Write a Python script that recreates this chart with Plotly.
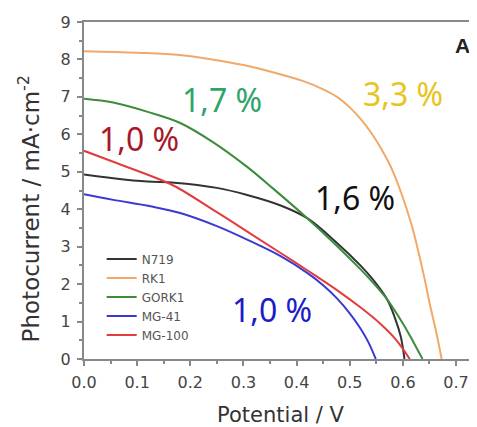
import plotly.graph_objects as go

# ---- data ----
series_names = ["N719", "RK1", "GORK1", "MG-41", "MG-100"]

v_n719 = [0, 0.055, 0.119, 0.17, 0.25, 0.307, 0.37, 0.42, 0.476, 0.52, 0.545, 0.57, 0.585, 0.596, 0.603]
j_n719 = [4.93, 4.83, 4.74, 4.71, 4.57, 4.38, 4.1, 3.76, 3.1, 2.5, 2.1, 1.6, 1.1, 0.6, 0]

v_rk1 = [0, 0.1, 0.18, 0.25, 0.3, 0.35, 0.413, 0.45, 0.476, 0.5, 0.52, 0.54, 0.557, 0.575, 0.59, 0.605, 0.617, 0.627, 0.64, 0.651, 0.663, 0.673]
j_rk1 = [8.22, 8.18, 8.12, 7.98, 7.85, 7.68, 7.42, 7.2, 7.0, 6.72, 6.42, 6.05, 5.67, 5.2, 4.7, 4.1, 3.55, 3.0, 2.2, 1.45, 0.7, 0]

v_gork1 = [0, 0.055, 0.12, 0.18, 0.244, 0.307, 0.356, 0.42, 0.476, 0.52, 0.545, 0.57, 0.60, 0.62, 0.637]
j_gork1 = [6.95, 6.85, 6.6, 6.31, 5.78, 5.13, 4.55, 3.76, 3.02, 2.4, 2.02, 1.6, 0.95, 0.45, 0]

v_mg41 = [0, 0.055, 0.125, 0.181, 0.25, 0.313, 0.37, 0.42, 0.45, 0.476, 0.50, 0.52, 0.535, 0.549]
j_mg41 = [4.4, 4.25, 4.08, 3.9, 3.55, 3.15, 2.75, 2.3, 1.97, 1.62, 1.22, 0.82, 0.45, 0]

v_mg100 = [0, 0.06, 0.12, 0.17, 0.25, 0.313, 0.37, 0.42, 0.476, 0.52, 0.557, 0.585, 0.613]
j_mg100 = [5.56, 5.24, 4.92, 4.62, 3.92, 3.35, 2.83, 2.37, 1.84, 1.38, 0.95, 0.55, 0]

line_colors = ["#333333", "#f2a868", "#3c8c3c", "#3a3ad2", "#e23c3c"]

eff_labels = ["1,7 %", "3,3 %", "1,0 %", "1,6 %", "1,0 %"]
eff_x = [0.26, 0.60, 0.103, 0.51, 0.354]
eff_y = [6.92, 7.1, 5.9, 4.3, 1.31]
eff_colors = ["#2fa468", "#e8c420", "#a8182a", "#111111", "#1c1cc8"]

x_ticks = [0.0, 0.1, 0.2, 0.3, 0.4, 0.5, 0.6, 0.7]
y_ticks = [0, 1, 2, 3, 4, 5, 6, 7, 8, 9]

# ---- figure ----
fig = go.Figure()
xs = [v_n719, v_rk1, v_gork1, v_mg41, v_mg100]
ys = [j_n719, j_rk1, j_gork1, j_mg41, j_mg100]
for name, x, y, c in zip(series_names, xs, ys, line_colors):
    fig.add_trace(go.Scatter(x=x, y=y, mode="lines", name=name,
                             line=dict(color=c, width=2, shape="spline", smoothing=1.0)))

for t, x, y, c in zip(eff_labels, eff_x, eff_y, eff_colors):
    fig.add_annotation(x=x, y=y, text=t, showarrow=False,
                       font=dict(family="Noto Sans", size=32, color=c))

fig.add_annotation(x=0.964, y=0.93, xref="paper", yref="paper", text="<b>A</b>",
                   xanchor="center", yanchor="middle", showarrow=False,
                   font=dict(family="Liberation Sans", size=21, color="#222"))

# y-axis title, placed as a rotated annotation
fig.add_annotation(x=-0.139, y=0.448, xref="paper", yref="paper",
                   text="Photocurrent / mA·cm<sup>-2</sup>", textangle=-90,
                   xanchor="center", yanchor="middle", showarrow=False,
                   font=dict(family="DejaVu Sans", size=23, color="#333"))

tick_font = dict(family="DejaVu Sans", size=16, color="#444")
title_font = dict(family="DejaVu Sans", size=21, color="#333")
# page body has an 8px margin, so the figure is offset by 8px in the window
fig.update_layout(
    width=469, height=419,
    margin=dict(l=76, r=0, t=14, b=68),
    paper_bgcolor="white", plot_bgcolor="white",
    showlegend=True,
    legend=dict(x=0.045, y=0.34, xanchor="left", yanchor="top",
                bgcolor="rgba(0,0,0,0)", font=dict(family="DejaVu Sans", size=12, color="#555"),
                itemwidth=30, tracegroupgap=0),
    xaxis=dict(range=[0, 0.7395], tickvals=x_ticks, ticktext=[f"{v:.1f}" for v in x_ticks],
               automargin=False,
               showgrid=False, zeroline=False, showline=True, linecolor="#888", linewidth=2,
               mirror=True, ticks="outside", ticklen=5, tickcolor="#888", tickwidth=1.5,
               ticklabelstandoff=3,
               minor=dict(ticks="outside", dtick=0.05, ticklen=3, tickcolor="#888"),
               tickfont=tick_font,
               title=dict(text="Potential / V", font=title_font, standoff=19)),
    yaxis=dict(range=[0, 9], tickvals=y_ticks, showgrid=False, zeroline=False,
               automargin=False,
               showline=True, linecolor="#888", linewidth=2,
               ticks="outside", ticklen=5, tickcolor="#888", tickwidth=1.5,
               ticklabelstandoff=3,
               minor=dict(ticks="outside", dtick=0.5, ticklen=3, tickcolor="#888"),
               tickfont=tick_font),
)

fig.write_html("out.html")
